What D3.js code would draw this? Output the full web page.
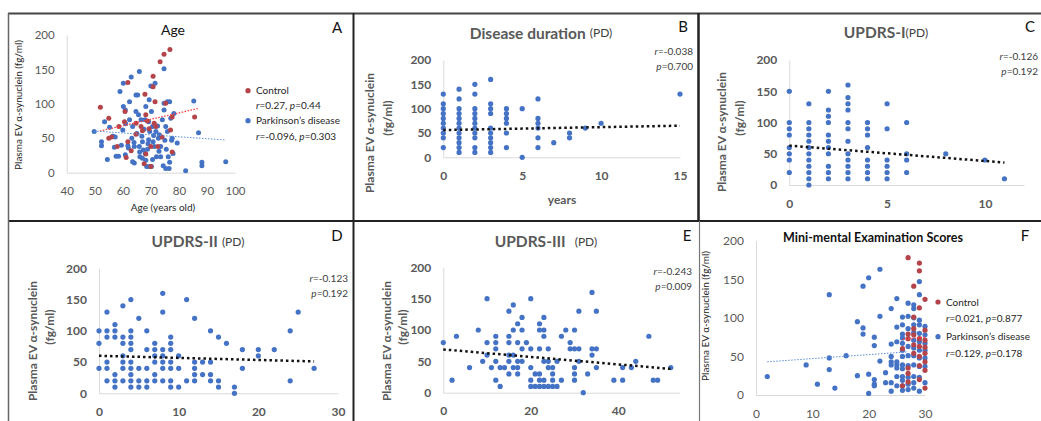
<!DOCTYPE html>
<html>
<head>
<meta charset="utf-8">
<script src="https://cdn.jsdelivr.net/npm/d3@7"></script>
<style>
  body { margin: 0; background: #fff; }
  svg { display: block; font-family: Lato, "Liberation Sans", sans-serif; }
</style>
</head>
<body>
<div id="chart"></div>
<script>
// ---- data ----
var yTicks = [0, 50, 100, 150, 200];

// A: Age
var ageTicks = [40, 50, 60, 70, 80, 90, 100];
var agePD = [[49.8,60],[52.4,45],[52.4,39],[53.5,74],[54.5,19],[55.3,66],[56.5,53],[57.3,52],[57.6,24],[58.5,24],
  [59,118],[60.2,130],[60.2,96],[60.9,91],[60.9,26],[61.8,39],[62.4,103],[62.4,77],[63,139],[63.2,50],
  [63.5,67],[63.5,16],[64.1,14],[64.1,38],[64.7,89],[64.7,113],[65.3,113],[65.6,84],[65.9,147],[65.9,38],
  [66.1,23],[66.5,77],[66.8,53],[67,45],[67,21],[67.3,33],[67.6,63],[67.9,77],[68.2,96],[68.2,18],
  [68.5,9],[68.8,34],[69.2,74],[69.2,48],[69.4,106],[69.4,9],[69.6,60],[70,126],[70.2,89],[70.2,9],
  [70.6,67],[70.6,19],[70.8,45],[71.2,38],[71.5,130],[71.8,60],[72,23],[72.4,68],[72.7,50],[72.9,31],
  [73.5,23],[73.5,38],[74.1,77],[74.4,10],[74.7,151],[74.7,101],[74.7,91],[75,47],[75.3,67],[75.3,6],
  [75.5,34],[75.9,103],[75.9,60],[76.2,23],[76.5,6],[76.7,15],[76.7,103],[77.1,79],[77.4,47],[77.6,50],
  [77.9,28],[78.2,86],[79.4,43],[82.4,3],[85.3,104],[87,58],[88.2,15],[88.2,10],[96.7,16],
  [59.5,40],[62,36],[66,30],[69,42],[73,55],[60,62],[65,57],[71,54],[64,44],[57,37],[61,71],[68,28]];
var ageCtrl = [[52,95],[55,79],[55,50],[56,52],[58,38],[58.6,67],[60.6,74],[60.8,89],[61.2,22],[61.8,131],
  [61.8,45],[63,32],[64.7,72],[64.7,56],[66.5,67],[67,61],[67.9,114],[68.2,84],[68.2,27],[68.8,75],
  [69.4,64],[70,38],[70,9],[70.8,140],[70.8,125],[71.2,72],[71.8,67],[72.5,38],[73.3,161],[74,52],
  [74.7,172],[75.3,101],[76.8,179],[77,62],[77.6,30],[77.6,81],[85.6,81],[71.5,103],[67.6,13]];
var ageTrendCtrl = [[51.8,60.5],[87.1,93.5]];
var ageTrendPD = [[49.8,60.5],[96.8,47.5]];

// B: disease duration
var durTicks = [0, 5, 10, 15];
var durPD = [[0,130],[0,110],[0,100],[0,90],[0,80],[0,70],[0,60],[0,50],[0,40],[0,20],
  [1,140],[1,120],[1,100],[1,90],[1,80],[1,70],[1,60],[1,50],[1,40],[1,30],[1,20],[1,10],
  [2,150],[2,130],[2,100],[2,90],[2,80],[2,70],[2,60],[2,50],[2,40],[2,20],[2,10],
  [3,160],[3,110],[3,100],[3,90],[3,60],[3,50],[3,40],[3,30],[3,20],[3,10],
  [4,100],[4,90],[4,80],[4,70],[4,50],[4,20],[5,100],[5,0],
  [6,120],[6,80],[6,70],[6,60],[6,40],[6,20],[7,30],[8,50],[8,40],[9,60],[10,70],[15,130]];
var durTrend = [[0,56],[15,65]];

// C: UPDRS-I
var upd1Ticks = [0, 5, 10];
var upd1PD = [[0,150],[0,100],[0,90],[0,80],[0,60],[0,50],[0,40],[0,20],
  [1,130],[1,100],[1,90],[1,80],[1,70],[1,60],[1,50],[1,40],[1,30],[1,20],[1,10],[1,0],
  [2,150],[2,120],[2,110],[2,100],[2,80],[2,70],[2,60],[2,50],[2,30],[2,20],[2,10],
  [3,160],[3,140],[3,130],[3,120],[3,100],[3,90],[3,70],[3,50],[3,40],[3,30],[3,20],[3,10],
  [4,100],[4,90],[4,80],[4,60],[4,40],[4,30],[4,20],[4,10],
  [5,130],[5,90],[5,40],[5,30],[5,20],[5,10],
  [6,100],[6,50],[6,40],[6,20],[8,50],[10,40],[11,10]];
var upd1Trend = [[0,63],[11,36]];

// D: UPDRS-II
var upd2Ticks = [0, 10, 20, 30];
var upd2PD = [[0,100],[0,80],[0,40],
  [1,130],[1,100],[1,90],[1,50],[1,40],[1,20],
  [2,110],[2,100],[2,90],[2,30],[2,20],[2,10],
  [3,140],[3,90],[3,80],[3,60],[3,50],[3,40],[3,20],
  [4,150],[4,100],[4,90],[4,80],[4,70],[4,50],[4,40],[4,30],[4,20],[4,10],
  [5,120],[5,40],[5,20],[5,10],
  [6,100],[6,70],[6,40],[6,20],[6,10],
  [7,80],[7,70],[7,60],[7,50],[7,30],[7,20],
  [8,160],[8,130],[8,70],[8,60],[8,50],[8,40],[8,20],
  [9,90],[9,80],[9,70],[9,50],[9,40],[9,20],[9,10],
  [10,60],[10,40],[10,10],[11,150],[11,20],
  [12,120],[12,50],[12,40],[12,30],[12,20],[13,50],[13,30],
  [14,100],[14,50],[14,30],[14,20],[15,90],[15,20],[15,10],[16,80],[17,10],[17,0],
  [18,70],[18,40],[20,70],[20,60],[22,70],[24,100],[24,20],[25,130],[27,40]];
var upd2Trend = [[0,60],[27,51]];

// E: UPDRS-III
var upd3Ticks = [0, 20, 40];
var upd3PD = [[0,80],[2,20],[3,90],[6,40],[8,100],[9,50],[10,150],[10,80],[10,60],[11,40],
  [12,90],[12,80],[12,70],[12,50],[12,20],[13,10],[13,40],[14,40],
  [15,90],[15,80],[15,60],[15,50],[15,30],[15,130],[16,140],[16,100],[16,60],[16,40],
  [17,110],[17,80],[17,50],[17,30],[17,40],[18,120],[18,100],[18,70],[18,50],[19,80],
  [20,150],[20,70],[20,40],[20,20],[20,10],[21,30],[21,10],
  [22,110],[22,100],[22,70],[22,30],[22,20],[22,10],
  [23,120],[23,100],[23,90],[23,50],[23,20],[23,10],
  [24,70],[24,50],[24,40],[24,10],[25,40],[25,30],[25,20],[25,10],[26,50],[26,10],
  [27,90],[27,20],[28,100],[29,80],[29,70],[30,100],[30,70],[30,40],[30,30],[30,20],
  [31,130],[31,70],[31,50],[32,0],[33,30],[34,160],[34,70],[34,60],[35,130],[35,70],[35,40],
  [39,20],[41,40],[41,20],[43,40],[44,50],[47,90],[48,20],[49,20],[52,40]];
var upd3Trend = [[0,69],[52,38]];

// F: MMSE
var mmseTicks = [0, 10, 20, 30];
var mmsePD = [[2,24],[8.9,39],[10.9,14],[13,130],[13,48],[13,33],[14,9],[16,51],[18,95],[18,25],
  [19,141],[19,87],[19,79],[20,152],[20,27],[20,2],[21,75],[21,64],[21,20],[21,14],[21,12],
  [22,163],[22,102],[22,44],[23,29],[23,16],
  [24,112],[24,66],[24,50],[24,43],[24,39],[24,16],[24,5],
  [25,125],[25,88],[25,69],[25,43],[25,39],[25,35],[25,24],[25,12],
  [26,101],[26,91],[26,79],[26,74],[26,67],[26,58],[26,50],[26,39],[26,34],[26,24],[26,19],[26,12],[26,6],
  [27,119],[27,102],[27,86],[27,63],[27,51],[27,38],[27,23],[27,14],[27,7],
  [28,117],[28,112],[28,100],[28,91],[28,81],[28,71],[28,61],[28,51],[28,39],[28,24],[28,16],[28,9],
  [29,147],[29,130],[29,97],[29,91],[29,80],[29,69],[29,58],[29,48],[29,37],[29,23],[29,5],
  [30,89],[30,78],[30,67],[30,58],[30,48],[30,37],[30,16]];
var mmseCtrl = [[27,178],[29,171],[29,161],[29,113],[30,124],[28,141],[28,86],[28,101],[27,79],
  [27,35],[27,28],[27,17],[26,60],[26,12],[28,78],[28,65],[28,54],[29,73],[29,63],[29,50],
  [29,38],[29,20],[30,84],[30,71],[30,62],[30,54],[30,43],[30,32],[30,9],[27,73]];
var mmseTrendPD = [[2,43],[27,56]];
var mmseTrendCtrl = [[26,72],[30,75]];

// ---- drawing ----
var W = 1041, H = 421;
var BLUE = "#4472C4", RED = "#B5444A", TICK = "#595959";

var svg = d3.select("#chart").append("svg")
  .attr("width", W).attr("height", H);

// panel frames
var frame = svg.append("g").attr("fill", "none");
frame.append("line").attr("x1", 8).attr("x2", W).attr("y1", 13.5).attr("y2", 13.5)
  .attr("stroke", "#444").attr("stroke-width", 1.8);
frame.append("line").attr("x1", 8).attr("x2", W).attr("y1", 221).attr("y2", 221)
  .attr("stroke", "#222").attr("stroke-width", 2);
frame.append("line").attr("x1", 8.5).attr("x2", 8.5).attr("y1", 13).attr("y2", H)
  .attr("stroke", "#666").attr("stroke-width", 1.5);
frame.append("line").attr("x1", 353.5).attr("x2", 353.5).attr("y1", 13).attr("y2", H)
  .attr("stroke", "#222").attr("stroke-width", 2);
frame.append("line").attr("x1", 698.5).attr("x2", 698.5).attr("y1", 13).attr("y2", 221)
  .attr("stroke", "#222").attr("stroke-width", 2.5);
frame.append("line").attr("x1", 699.5).attr("x2", 699.5).attr("y1", 221).attr("y2", H)
  .attr("stroke", "#777").attr("stroke-width", 1.2);

function drawPanel(p) {
  var g = svg.append("g");
  var x = d3.scaleLinear().domain(p.xDomain).range(p.xRange);
  var y = d3.scaleLinear().domain([0, 200]).range(p.yRange);
  var tickFont = p.bold ? "bold" : "normal";

  var yAxis = g.append("g")
    .attr("transform", "translate(" + p.xRange[0] + ",0)")
    .call(d3.axisLeft(y).tickValues(yTicks).tickSize(0).tickPadding(12));
  var xAxis = g.append("g")
    .attr("transform", "translate(0," + p.yRange[0] + ")")
    .call(d3.axisBottom(x).tickValues(p.xTicks).tickSize(0).tickPadding(14));
  [xAxis, yAxis].forEach(function (a) {
    a.select(".domain").attr("stroke", "#d9d9d9").attr("stroke-width", 1);
    a.selectAll("text").attr("fill", TICK)
      .style("font-size", p.tickSize + "px").style("font-weight", tickFont)
      .style("font-family", "Lato, 'Liberation Sans', sans-serif");
  });

  var line = d3.line().x(function (d) { return x(d[0]); }).y(function (d) { return y(d[1]); });

  p.series.forEach(function (s) {
    g.append("g").selectAll("circle")
      .data(s.data)
      .enter().append("circle")
      .attr("cx", function (d) { return x(d[0]); })
      .attr("cy", function (d) { return y(d[1]); })
      .attr("r", p.r)
      .attr("fill", s.color);
  });

  p.trends.forEach(function (t) {
    g.append("path")
      .attr("d", line(t.data))
      .attr("fill", "none")
      .attr("stroke", t.color)
      .attr("stroke-width", t.width)
      .attr("stroke-dasharray", t.dash);
  });
  return { x: x, y: y, g: g };
}

function title(x, y, main, size, weight, color, pd, gap) {
  var t = svg.append("text").attr("x", x).attr("y", y)
    .attr("text-anchor", "middle").attr("fill", color)
    .style("font-size", size + "px").style("font-weight", weight)
    .text(main);
  if (pd) {
    t.append("tspan").attr("dx", gap).attr("dy", -1.5)
      .style("font-size", "12px").style("font-weight", "normal").attr("fill", "#404040")
      .text("(PD)");
  }
}

function letter(x, y, s) {
  svg.append("text").attr("x", x).attr("y", y).attr("text-anchor", "middle")
    .style("font-size", "15px").attr("fill", "#111").text(s);
}

function stats(x, y, r, pv) {
  var t1 = svg.append("text").attr("x", x).attr("y", y).attr("text-anchor", "end")
    .style("font-size", "10px").attr("fill", "#404040");
  t1.append("tspan").style("font-style", "italic").text("r");
  t1.append("tspan").text("=" + r);
  var t2 = svg.append("text").attr("x", x).attr("y", y + 15).attr("text-anchor", "end")
    .style("font-size", "10px").attr("fill", "#404040");
  t2.append("tspan").style("font-style", "italic").text("p");
  t2.append("tspan").text("=" + pv);
}

function ylabel(x, cy, s, size, weight, color) {
  svg.append("text")
    .attr("transform", "translate(" + x + "," + cy + ") rotate(-90)")
    .attr("text-anchor", "middle").attr("dy", "0.35em")
    .style("font-size", size + "px").style("font-weight", weight)
    .attr("fill", color).text(s);
}

function legend(x, y, items) {
  items.forEach(function (it, i) {
    var yy = y + it.dy;
    if (it.color) {
      svg.append("circle").attr("cx", x).attr("cy", yy).attr("r", 2.6).attr("fill", it.color);
    }
    var t = svg.append("text").attr("x", x + 8).attr("y", yy).attr("dy", "0.35em")
      .style("font-size", "10px").attr("fill", "#262626");
    if (it.stat) {
      t.append("tspan").style("font-style", "italic").text("r");
      t.append("tspan").text("=" + it.stat[0] + ", ");
      t.append("tspan").style("font-style", "italic").text("p");
      t.append("tspan").text("=" + it.stat[1]);
    } else {
      t.text(it.text);
    }
  });
}

var dotted = "2.5,3";

// A
drawPanel({
  xDomain: [40, 100], xRange: [66.7, 235], yRange: [172.7, 35], xTicks: ageTicks,
  tickSize: 11.5, bold: false, r: 2.5,
  series: [{ data: agePD, color: BLUE }, { data: ageCtrl, color: RED }],
  trends: [
    { data: ageTrendCtrl, color: "#ff3b3b", width: 1.3, dash: "1.5,1.5" },
    { data: ageTrendPD, color: "#5b8fd9", width: 1, dash: "1.5,1.5" }
  ]
});
title(173, 35, "Age", 14, "normal", "#111", false);
letter(337, 33, "A");
ylabel(18, 105, "Plasma EV \u03b1-synuclein (fg/ml)", 10, "normal", "#262626");
svg.append("text").attr("x", 163).attr("y", 211).attr("text-anchor", "middle")
  .style("font-size", "10px").attr("fill", "#262626").text("Age (years old)");
legend(248, 0, [
  { dy: 90.7, color: RED, text: "Control" },
  { dy: 105, stat: ["0.27", "0.44"] },
  { dy: 120.7, color: BLUE, text: "Parkinson\u2019s disease" },
  { dy: 136.5, stat: ["-0.096", "0.303"] }
]);

// B
drawPanel({
  xDomain: [0, 15], xRange: [443.3, 680], yRange: [157.3, 60], xTicks: durTicks,
  tickSize: 12, bold: true, r: 2.6,
  series: [{ data: durPD, color: BLUE }],
  trends: [{ data: durTrend, color: "#111", width: 2.5, dash: dotted }]
});
title(541, 38.5, "Disease duration", 15.5, "bold", TICK, true, 4);
letter(683, 32, "B");
stats(693, 55, "-0.038", "0.700");
ylabel(370, 133, "Plasma EV \u03b1-synuclein", 12, "bold", TICK);
ylabel(388, 118, "(fg/ml)", 12, "bold", TICK);
svg.append("text").attr("x", 562).attr("y", 204).attr("text-anchor", "middle")
  .style("font-size", "12px").style("font-weight", "bold").attr("fill", TICK).text("years");

// C
drawPanel({
  xDomain: [0, 12], xRange: [789.3, 1024], yRange: [185, 60], xTicks: upd1Ticks,
  tickSize: 12, bold: true, r: 2.6,
  series: [{ data: upd1PD, color: BLUE }],
  trends: [{ data: upd1Trend, color: "#111", width: 2.5, dash: dotted }]
});
title(886, 38, "UPDRS-I", 15.5, "bold", TICK, true, 0);
letter(1030, 32, "C");
stats(1038, 60, "-0.126", "0.192");
ylabel(722, 132, "Plasma EV \u03b1-synuclein", 12, "bold", TICK);
ylabel(740, 118, "(fg/ml)", 12, "bold", TICK);

// D
drawPanel({
  xDomain: [0, 30], xRange: [99, 338], yRange: [393.3, 268.3], xTicks: upd2Ticks,
  tickSize: 12, bold: true, r: 2.6,
  series: [{ data: upd2PD, color: BLUE }],
  trends: [{ data: upd2Trend, color: "#111", width: 2.5, dash: dotted }]
});
title(198, 247, "UPDRS-II", 15.5, "bold", TICK, true, 4);
letter(337, 241, "D");
stats(348, 282, "-0.123", "0.192");
ylabel(33, 341, "Plasma EV \u03b1-synuclein", 12, "bold", TICK);
ylabel(50, 327, "(fg/ml)", 12, "bold", TICK);

// E
drawPanel({
  xDomain: [0, 54], xRange: [443.3, 679.5], yRange: [392.7, 267.3], xTicks: upd3Ticks,
  tickSize: 12, bold: true, r: 2.6,
  series: [{ data: upd3PD, color: BLUE }],
  trends: [{ data: upd3Trend, color: "#111", width: 2.5, dash: dotted }]
});
title(546, 247, "UPDRS-III", 15.5, "bold", TICK, true, 9);
letter(687, 241, "E");
stats(692, 275, "-0.243", "0.009");
ylabel(387, 341, "Plasma EV \u03b1-synuclein", 12, "bold", TICK);
ylabel(403, 327, "(fg/ml)", 12, "bold", TICK);

// F
drawPanel({
  xDomain: [0, 30], xRange: [756, 925], yRange: [395, 240.7], xTicks: mmseTicks,
  tickSize: 12, bold: false, r: 2.6,
  series: [{ data: mmsePD, color: BLUE }, { data: mmseCtrl, color: RED }],
  trends: [
    { data: mmseTrendPD, color: "#5b8fd9", width: 1, dash: "1.5,1.5" },
    { data: mmseTrendCtrl, color: "#ff3b3b", width: 1.3, dash: "1.5,1.5" }
  ]
});
title(873, 242, "Mini-mental Examination Scores", 12.5, "bold", "#111", false);
letter(1025, 241, "F");
ylabel(705, 316, "Plasma EV \u03b1-synuclein (fg/ml)", 10, "normal", "#262626");
legend(938, 0, [
  { dy: 302, color: RED, text: "Control" },
  { dy: 318, stat: ["0.021", "0.877"] },
  { dy: 336.7, color: BLUE, text: "Parkinson\u2019s disease" },
  { dy: 353, stat: ["0.129", "0.178"] }
]);
</script>
</body>
</html>
